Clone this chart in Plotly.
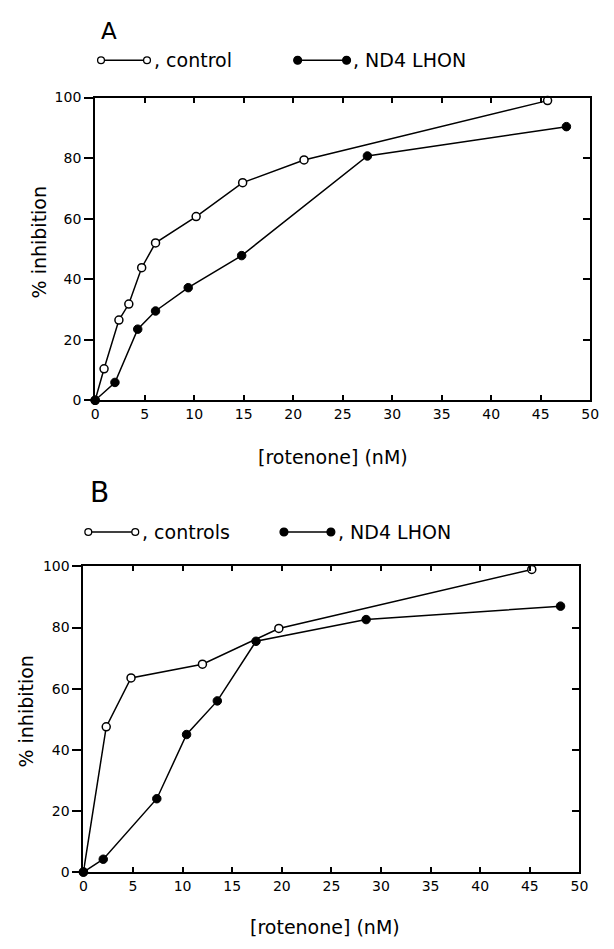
import plotly.graph_objects as go

# The page body has an 8px margin, so the figure is sized to fit inside it and
# all reference pixel positions are converted with that offset.
OFF = 8
W, H = 614 - 2 * OFF, 949 - 2 * OFF
FONT = "DejaVu Sans"

# ---------- data ----------
a_ctrl_x = [0, 0.9, 2.4, 3.4, 4.7, 6.1, 10.2, 14.9, 21.1, 45.7]
a_ctrl_y = [0, 10.4, 26.5, 31.8, 43.8, 52.0, 60.7, 71.9, 79.4, 99.0]
a_nd4_x = [0, 2.0, 4.3, 6.1, 9.4, 14.8, 27.5, 47.6]
a_nd4_y = [0, 5.9, 23.5, 29.5, 37.2, 47.8, 80.7, 90.4]

b_ctrl_x = [0, 2.3, 4.8, 12.0, 19.7, 45.2]
b_ctrl_y = [0, 47.5, 63.5, 68.0, 79.7, 99.0]
b_nd4_x = [0, 2.0, 7.4, 10.4, 13.5, 17.4, 28.5, 48.1]
b_nd4_y = [0, 4.2, 24.0, 45.0, 56.0, 75.5, 82.6, 87.0]

x_ticks = [0, 5, 10, 15, 20, 25, 30, 35, 40, 45, 50]
y_ticks = [0, 20, 40, 60, 80, 100]
x_title = "[rotenone] (nM)"
y_title = "% inhibition"
a_labels = ["control", "ND4 LHON"]
b_labels = ["controls", "ND4 LHON"]


def px(x):
    return (x - OFF) / W


def py(y):
    return 1 - (y - OFF) / H


fig = go.Figure()

open_marker = dict(symbol="circle", size=8, color="white", line=dict(color="black", width=1.5))
filled_marker = dict(symbol="circle", size=8.5, color="black", line=dict(color="black", width=1))
line_style = dict(color="black", width=1.5)

fig.add_trace(go.Scatter(x=a_ctrl_x, y=a_ctrl_y, mode="lines+markers", marker=open_marker,
                         line=line_style, xaxis="x", yaxis="y", cliponaxis=False, showlegend=False))
fig.add_trace(go.Scatter(x=a_nd4_x, y=a_nd4_y, mode="lines+markers", marker=filled_marker,
                         line=line_style, xaxis="x", yaxis="y", cliponaxis=False, showlegend=False))
fig.add_trace(go.Scatter(x=b_ctrl_x, y=b_ctrl_y, mode="lines+markers", marker=open_marker,
                         line=line_style, xaxis="x2", yaxis="y2", cliponaxis=False, showlegend=False))
fig.add_trace(go.Scatter(x=b_nd4_x, y=b_nd4_y, mode="lines+markers", marker=filled_marker,
                         line=line_style, xaxis="x2", yaxis="y2", cliponaxis=False, showlegend=False))
# empty traces so the right-hand tick axes are drawn
fig.add_trace(go.Scatter(x=[], y=[], xaxis="x", yaxis="y3", showlegend=False))
fig.add_trace(go.Scatter(x=[], y=[], xaxis="x2", yaxis="y4", showlegend=False))

tickfont = dict(family=FONT, size=14, color="black")

xcommon = dict(range=[0, 50], tickvals=x_ticks, ticks="inside", ticklen=5, tickwidth=1.5,
               tickcolor="black", showline=True, linecolor="black", linewidth=2, mirror="ticks",
               showgrid=False, zeroline=False, tickfont=tickfont)
ycommon = dict(range=[0, 100], tickvals=y_ticks, ticks="outside", ticklen=9, tickwidth=1.5,
               tickcolor="black", showline=True, linecolor="black", linewidth=2, mirror=True,
               showgrid=False, zeroline=False, tickfont=tickfont)
yright = dict(range=[0, 100], tickvals=[20, 40, 60, 80], ticks="inside", ticklen=7, tickwidth=1.5,
              tickcolor="black", showline=False, showticklabels=False, showgrid=False,
              zeroline=False, side="right")

# panel A plot area: x 93..599, y 91..399 ; panel B: x 81..588, y 568..879 (page pixels)
fig.update_layout(
    width=W, height=H,
    margin=dict(l=0, r=0, t=0, b=0),
    paper_bgcolor="white", plot_bgcolor="rgba(0,0,0,0)",
    xaxis=dict(domain=[px(93), px(599)], anchor="y", **xcommon),
    yaxis=dict(domain=[py(399), py(91)], anchor="x", **ycommon),
    yaxis3=dict(overlaying="y", anchor="x", **yright),
    xaxis2=dict(domain=[px(81), px(588)], anchor="y2", **xcommon),
    yaxis2=dict(domain=[py(879), py(568)], anchor="x2", **ycommon),
    yaxis4=dict(overlaying="y2", anchor="x2", **yright),
    showlegend=False,
)

ann = []


def text(x, y, s, size, xanchor="center", angle=0):
    ann.append(dict(x=px(x), y=py(y), xref="paper", yref="paper", text=s, showarrow=False,
                    xanchor=xanchor, yanchor="middle", textangle=angle,
                    font=dict(family=FONT, size=size, color="black")))


# panel labels
text(107, 23, "A", 23)
text(97, 493, "B", 28)
# axis titles
text(336, 457, x_title, 19)
text(328, 935, x_title, 19)
text(36, 238, y_title, 19, angle=-90)
text(22, 716, y_title, 19, angle=-90)

shapes = []


def legend_item(x_left, x_right, y, filled, label):
    r = 3.5 if not filled else 4
    shapes.append(dict(type="line", xref="paper", yref="paper", x0=px(x_left), x1=px(x_right),
                       y0=py(y), y1=py(y), line=dict(color="black", width=1.5)))
    for cx in (x_left, x_right):
        shapes.append(dict(type="circle", xref="paper", yref="paper",
                           x0=px(cx - r), x1=px(cx + r), y0=py(y + r), y1=py(y - r),
                           fillcolor="black" if filled else "white",
                           line=dict(color="black", width=1.3)))
    text(x_right + 5, y, ", " + label, 19, xanchor="left")


legend_item(99, 146, 53, False, a_labels[0])
legend_item(300, 350, 53, True, a_labels[1])
legend_item(86, 134, 533, False, b_labels[0])
legend_item(286, 334, 533, True, b_labels[1])

fig.update_layout(annotations=ann, shapes=shapes)

fig.write_html("out.html")
